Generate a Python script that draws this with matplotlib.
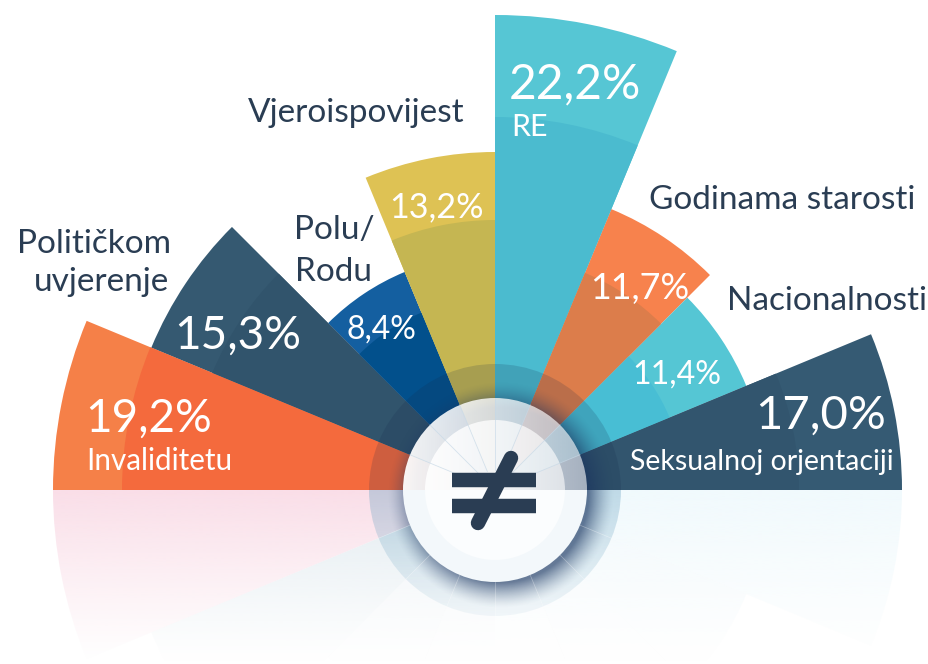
import numpy as np
import matplotlib
matplotlib.use("Agg")
from matplotlib import pyplot as plt
from matplotlib.patches import Wedge, Circle

W, H = 929, 664
CX, CY = 495, 490  # hub position in picture pixels

# Sectors from left to right
categories = ["Invaliditetu", "Političkom\nuvjerenje", "Polu/\nRodu", "Vjeroispovijest",
              "RE", "Godinama starosti", "Nacionalnosti", "Seksualnoj orjentaciji"]
value_labels = ["19,2%", "15,3%", "8,4%", "13,2%", "22,2%", "11,7%", "11,4%", "17,0%"]
# bar length and inner band length
bar_lengths = [442, 372, 236, 338, 475, 304, 272, 407]
band_lengths = [373, 306, 192, 270, 373, 235, 189, 304]

outer_colors = ["#f58048", "#355971", "#145fa0", "#dec254", "#56c6d4", "#f7824d", "#55c6d4", "#355a73"]
inner_colors = ["#f46a3d", "#31546c", "#02508c", "#c5b652", "#4bbbcf", "#dc7d4b", "#48bed4", "#32556e"]
mirror_colors = ["#fadee8", "#e2ebf0", "#edf2f6", "#f1f5f8", "#f6fbfd", "#f3f9fc", "#f1f9fc", "#f1fafd"]

NAVY = "#2a3d53"
STEP = 22.5

fig = plt.figure(figsize=(W / 100, H / 100), dpi=100)
ax = fig.add_axes([0, 0, 1, 1])
ax.set_xlim(-CX, W - CX)
ax.set_ylim(CY - H, CY)
ax.axis("off")


def px(x, y):
    return x - CX, CY - y


def gradient(rgb, alpha, extent, clip, zorder):
    # alpha is a 2D array, rgb a colour; image gets clipped to the patch
    img = np.zeros(alpha.shape + (4,))
    img[..., :3] = matplotlib.colors.to_rgb(rgb)
    img[..., 3] = alpha
    im = ax.imshow(img, extent=extent, origin="lower", aspect="auto", zorder=zorder,
                   interpolation="bilinear")
    clip.set_transform(ax.transData)
    im.set_clip_path(clip)
    return im


# reflection below the base line
fade = np.linspace(0, 1, 256)[:, None] ** 1.1
for i, c in enumerate(mirror_colors):
    t1 = 180 + i * STEP
    wedge = Wedge((0, 0), bar_lengths[i], t1, t1 + STEP)
    gradient(c, fade, (-CX, W - CX, -172, 0), wedge, 1)

# sectors
for i in range(len(categories)):
    t2 = 180 - i * STEP
    t1 = t2 - STEP
    ax.add_patch(Wedge((0, 0), bar_lengths[i], t1, t2, fc=outer_colors[i], ec="none", zorder=2))
    ax.add_patch(Wedge((0, 0), band_lengths[i], t1, t2, fc=inner_colors[i], ec="none", zorder=3))

# dark ring round the hub
ax.add_patch(Wedge((0, 0), 126, 0, 180, fc="#14284a", alpha=0.17, ec="none", zorder=4))
ring_fade = np.linspace(0.08, 0.38, 128)[:, None]
gradient("#6fa6c4", ring_fade, (-126, 126, -126, 0), Wedge((0, 0), 126, 180, 360), 4)

# shadow under the hub, only outside the disc
xs = np.arange(-135, 136)
xx, yy = np.meshgrid(xs, xs)
dist = np.hypot(xx - 6, yy + 5)
shadow = np.clip(1 - (dist - 88) / 26, 0, 1) ** 1.5 * 0.62
gradient("#1c3560", shadow, (-135, 135, -135, 135), Circle((0, 0), 126), 5)

# hub: see-through on the upper right, almost white elsewhere
ax.add_patch(Wedge((0, 0), 92, 180, 360, fc="#f3f8fb", ec="none", zorder=6))
ax.add_patch(Wedge((0, 0), 70, 180, 360, fc="#fbfdfe", ec="none", zorder=6))
xx, yy = np.meshgrid(np.linspace(-92, 92, 185), np.linspace(0, 92, 93))
veil = 0.95 - 0.35 * (xx + 92) / 184
gradient("#ffffff", veil, (-92, 92, 0, 92), Wedge((0, 0), 92, 0, 180), 6)
xx, yy = np.meshgrid(np.linspace(-70, 70, 141), np.linspace(0, 70, 71))
veil = 0.88 - 0.28 * (xx + 70) / 140
gradient("#ffffff", veil, (-70, 70, 0, 70), Wedge((0, 0), 70, 0, 180), 7)

# thin dividers in the hub and ring
for i in range(1, len(categories)):
    a = np.radians(180 - i * STEP)
    ax.plot([20 * np.cos(a), 92 * np.cos(a)], [20 * np.sin(a), 92 * np.sin(a)],
            color="#c6d8e6", lw=0.6, alpha=0.7, zorder=8)
    a = np.radians(180 + i * STEP)
    ax.plot([92 * np.cos(a), 126 * np.cos(a)], [92 * np.sin(a), 126 * np.sin(a)],
            color="#ffffff", lw=0.5, alpha=0.35, zorder=8)

# the "not equal" icon
ax.plot(*zip(px(452, 480), px(536, 480)), color=NAVY, lw=10.4, solid_capstyle="butt", zorder=9)
ax.plot(*zip(px(452, 505.5), px(536, 505.5)), color=NAVY, lw=10.4, solid_capstyle="butt", zorder=9)
ax.plot(*zip(px(511, 458), px(478, 523)), color=NAVY, lw=10.4, solid_capstyle="round", zorder=9)

# labels
NUM_FONT = ["Lato", "DejaVu Sans"]
NAME_FONT = ["Lato", "DejaVu Sans"]


def label(x, y, s, size, color, font=NAME_FONT, **kw):
    xd, yd = px(x, y)
    ax.text(xd, yd, s, fontsize=size, color=color, family=font, zorder=10, va="baseline",
            ha="left", **kw)


value_pos = [(85, 432), (174, 349), (347, 339), (389, 217), (509, 98), (590, 299), (632, 384), (755, 429)]
value_size = [33, 33, 23, 24.6, 34.5, 25.8, 23.2, 34]
for (x, y), s, fs in zip(value_pos, value_labels, value_size):
    label(x, y, s, fs, "white", NUM_FONT)

label(86, 470, categories[0], 21.3, "white")
label(17, 253, categories[1].split("\n")[0], 24, NAVY)
label(34, 291, categories[1].split("\n")[1], 24, NAVY)
label(294, 239, categories[2].split("\n")[0], 24, NAVY)
label(295, 281, categories[2].split("\n")[1], 24, NAVY)
label(248, 122, categories[3], 24, NAVY)
label(511, 136, categories[4], 22, "white")
label(649, 209, categories[5], 24, NAVY)
label(727, 310, categories[6], 24, NAVY)
label(630, 470, categories[7], 20.5, "white")

ax.set_xlim(-CX, W - CX)
ax.set_ylim(CY - H, CY)
fig.savefig("out.png", dpi=100, facecolor="white")
